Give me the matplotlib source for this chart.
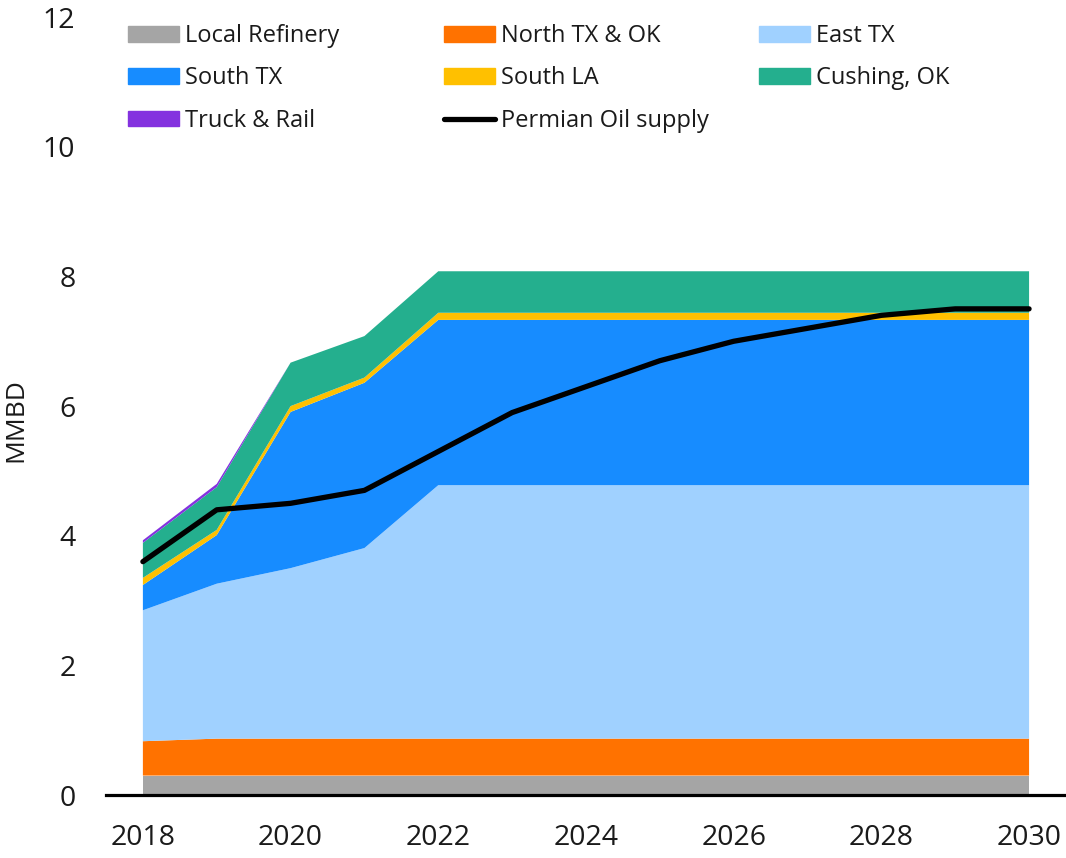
import numpy as np
import matplotlib
matplotlib.use("Agg")
from matplotlib import pyplot as plt
from matplotlib.patches import Patch
from matplotlib.lines import Line2D

# data (MMBD)
years = [2018, 2019, 2020, 2021, 2022, 2023, 2024, 2025, 2026, 2027, 2028, 2029, 2030]
local_refinery = [0.30] * 13
north_tx_ok = [0.53] + [0.57] * 12
east_tx = [2.02, 2.39, 2.63, 2.94] + [3.91] * 9
south_tx = [0.39, 0.75, 2.41, 2.55] + [2.55] * 9
south_la = [0.11, 0.08, 0.09, 0.08] + [0.11] * 9
cushing_ok = [0.54, 0.66, 0.67, 0.64] + [0.64] * 9
truck_rail = [0.04, 0.05] + [0.0] * 11
permian_supply = [3.6, 4.4, 4.5, 4.7, 5.3, 5.9, 6.3, 6.7, 7.0, 7.2, 7.4, 7.5, 7.5]

labels = ["Local Refinery", "North TX & OK", "East TX", "South TX",
          "South LA", "Cushing, OK", "Truck & Rail"]
colors = ["#A5A5A5", "#FF7200", "#A0D1FF", "#178CFF", "#FFC000", "#24AF8E", "#8432DF"]

plt.rcParams["font.family"] = ["Open Sans", "DejaVu Sans"]

fig = plt.figure(figsize=(10.66, 8.58), dpi=100)
ax = fig.add_axes([0.0994, 0.0734, 0.9006, 0.9066])

ax.stackplot(years, local_refinery, north_tx_ok, east_tx, south_tx,
             south_la, cushing_ok, truck_rail, colors=colors, linewidth=0)
ax.plot(years, permian_supply, color="black", lw=3.8, solid_capstyle="round",
        solid_joinstyle="round")

ax.set_xlim(2017.5, 2030.5)
ax.set_ylim(0, 12)
ax.set_xticks(range(2018, 2031, 2))
ax.set_yticks(range(0, 13, 2))
ax.tick_params(length=0, labelsize=20.5, colors="#1a1a1a")
ax.tick_params(axis="x", pad=21)
ax.tick_params(axis="y", pad=22)
for s in ["left", "right", "top"]:
    ax.spines[s].set_visible(False)
ax.spines["bottom"].set_linewidth(2.3)
ax.set_ylabel("MMBD", fontsize=19, color="#1a1a1a")
ax.yaxis.set_label_coords(-0.081, 0.482)

# legend: three fixed columns, one legend each
h = [Patch(color=c) for c in colors]
perm = Line2D([], [], color="black", lw=3.8, solid_capstyle="round")
cols = [
    ([h[0], h[3], h[6]], [labels[0], labels[3], labels[6]], 128),
    ([h[1], h[4], perm], [labels[1], labels[4], "Permian Oil supply"], 444),
    ([h[2], h[5]], [labels[2], labels[5]], 759),
]
for hs, ns, xpx in cols:
    leg = fig.legend(hs, ns, loc="upper left",
                     bbox_to_anchor=(xpx / 1066, 1 - 24 / 858),
                     frameon=False, fontsize=17, handlelength=2.15,
                     handleheight=0.64, handletextpad=0.28, labelspacing=0.78,
                     borderpad=0, borderaxespad=0)
    for t in leg.get_texts():
        t.set_color("#1a1a1a")

fig.savefig("out.png", dpi=100)
